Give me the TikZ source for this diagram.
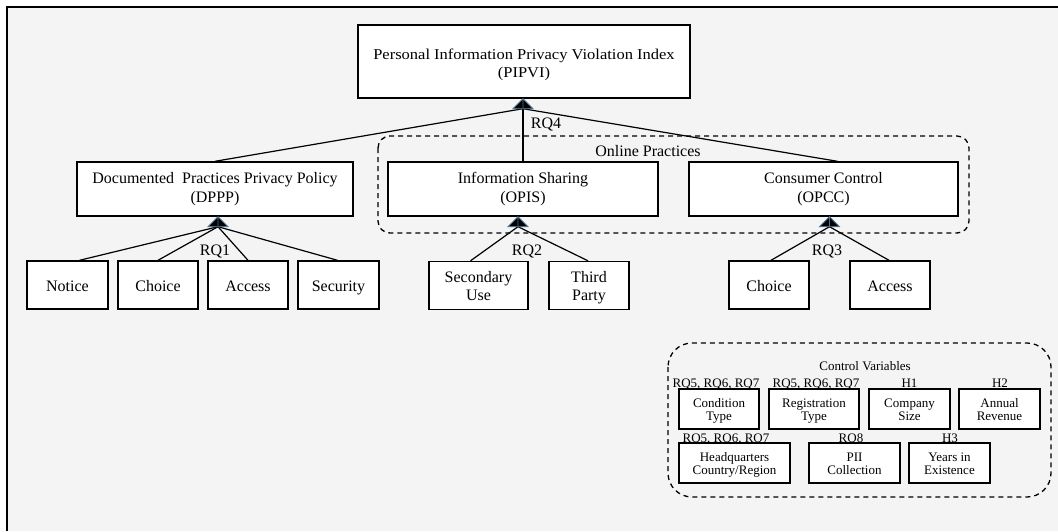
\documentclass[tikz,border=0pt]{standalone}
\usepackage{fontspec}
\setmainfont{Liberation Serif}
\newfontfamily\widefont[FakeStretch=1.1]{Liberation Serif}
\usetikzlibrary{calc}
\definecolor{bggray}{HTML}{F4F4F4}
\definecolor{triblue}{HTML}{4F7396}
\begin{document}
\begin{tikzpicture}[x=1pt,y=-1pt,
 box/.style={draw=black, line width=1.4pt, fill=white, inner sep=0pt, align=center, font=\fontsize{16}{19}\selectfont, text height=28.6pt, text depth=2pt},
 topbox/.style={box, font=\widefont\fontsize{15}{18.7}\selectfont, text height=34.4pt, text depth=2pt},
 leaf/.style={draw=black, line width=1.4pt, fill=white, inner sep=0pt, font=\fontsize{16}{18}\selectfont, minimum height=48pt, text height=13.4pt, text depth=0pt},
 leaftwo/.style={leaf, align=center, text height=32.4pt, text depth=2pt},
 cv/.style={draw=black, line width=1.4pt, fill=white, inner sep=0pt, align=center, font=\fontsize{13}{13.4}\selectfont, minimum height=40pt, text height=25.4pt, text depth=2pt},
 conn/.style={line width=1.2pt},
 grp/.style={line width=1.3pt, dash pattern=on 5pt off 4pt},
 lbl/.style={font=\fontsize{16}{20}\selectfont, inner sep=0pt, anchor=base},
 slbl/.style={font=\fontsize{13}{14}\selectfont, inner sep=0pt, anchor=base},
 tri/.style={fill=black, draw=triblue, line width=0.8pt, line join=miter}
]
\useasboundingbox (0,0) rectangle (1058,531);
\fill[bggray] (7,7) rectangle (1058,531);
\draw[line width=2pt] (7,531) -- (7,7) -- (1058,7);

% dashed groups
\draw[grp, rounded corners=12pt] (378,136) rectangle (969,233);
\draw[grp, rounded corners=24pt] (668,343) rectangle (1051,497);

% main nodes
\node[topbox, minimum width=332pt, minimum height=73pt] (pipvi) at (524,61.5) {Personal Information Privacy Violation Index\\(PIPVI)};
\node[box, minimum width=276pt, minimum height=54pt] (dppp) at (215,189) {Documented\ \ Practices Privacy Policy\\(DPPP)};
\node[box, minimum width=270pt, minimum height=54pt] (opis) at (523,189) {Information Sharing\\(OPIS)};
\node[box, minimum width=269pt, minimum height=54pt] (opcc) at (823.5,189) {Consumer Control\\(OPCC)};

\node[leaf, minimum width=81pt] (notice) at (67.5,285) {Notice};
\node[leaf, minimum width=80pt] (choicea) at (158,285) {Choice};
\node[leaf, minimum width=80pt] (accessa) at (248,285) {Access};
\node[leaf, minimum width=81pt] (security) at (338.5,285) {Security};
\node[leaftwo, minimum width=99pt] (secuse) at (478.5,285.5) {Secondary\\Use};
\node[leaftwo, minimum width=80pt] (third) at (589,285.5) {Third\\Party};
\node[leaf, minimum width=80pt] (choiceb) at (769,285) {Choice};
\node[leaf, minimum width=80pt] (accessb) at (890,285) {Access};

% triangle base points
\coordinate (tp) at ($(pipvi.south)+(-1,10)$);
\coordinate (td) at ($(dppp.south)+(3,10)$);
\coordinate (ts) at ($(opis.south)+(-5,10)$);
\coordinate (tc) at ($(opcc.south)+(6,10)$);

% connectors
\draw[conn] (tp) -- (dppp.north);
\draw[conn] (tp) -- (opis.north);
\draw[conn] (tp) -- ($(opcc.north)+(14,0)$);
\draw[conn] (td) -- ($(notice.north)+(12,0)$);
\draw[conn] (td) -- (choicea.north);
\draw[conn] (td) -- (accessa.north);
\draw[conn] (td) -- ($(security.north)+(-1,0)$);
\draw[conn] (ts) -- ($(secuse.north)+(-8,0)$);
\draw[conn] (ts) -- ($(third.north)+(-1,0)$);
\draw[conn] (tc) -- ($(choiceb.north)+(2,0)$);
\draw[conn] (tc) -- ($(accessb.north)+(-1,0)$);

% triangles
\draw[tri] (tp) -- ++(0,-10) -- ++(10,10) -- ++(-20,0) -- ++(10,-10);
\draw[tri] (td) -- ++(0,-10) -- ++(10,10) -- ++(-20,0) -- ++(10,-10);
\draw[tri] (ts) -- ++(0,-10) -- ++(10,10) -- ++(-20,0) -- ++(10,-10);
\draw[tri] (tc) -- ++(0,-10) -- ++(10,10) -- ++(-20,0) -- ++(10,-10);

% labels
\node[lbl] (rq4) at (546,128) {RQ4};
\node[lbl] (onl) at (648,156) {Online Practices};
\node[lbl] (rq1) at (215,255) {RQ1};
\node[lbl] (rq2) at (527,255) {RQ2};
\node[lbl] (rq3) at (827,255) {RQ3};

% control variables
\node[slbl] (cvt) at (865,370) {Control Variables};
\node[cv, minimum width=80pt] (cond) at (719,409) {Condition\\Type};
\node[cv, minimum width=90pt] (reg) at (814,409) {Registration\\Type};
\node[cv, minimum width=81pt] (size) at (909.5,409) {Company\\Size};
\node[cv, minimum width=81pt] (rev) at (999.5,409) {Annual\\Revenue};
\node[cv, minimum width=111pt] (hq) at (734.5,463) {Headquarters\\Country/Region};
\node[cv, minimum width=91pt] (pii) at (854.5,463) {PII\\Collection};
\node[cv, minimum width=81pt] (years) at (949.5,463) {Years in\\Existence};

\node[slbl] (lc) at (716,387.5) {RQ5, RQ6, RQ7};
\node[slbl] (lr) at (816,387.5) {RQ5, RQ6, RQ7};
\node[slbl] (ls) at (909.5,387.5) {H1};
\node[slbl] (lv) at (1000,387.5) {H2};
\node[slbl] (lh) at (726,442) {RQ5, RQ6, RQ7};
\node[slbl] (lp) at (851,442) {RQ8};
\node[slbl] (ly) at (950,442) {H3};
\end{tikzpicture}
\end{document}
